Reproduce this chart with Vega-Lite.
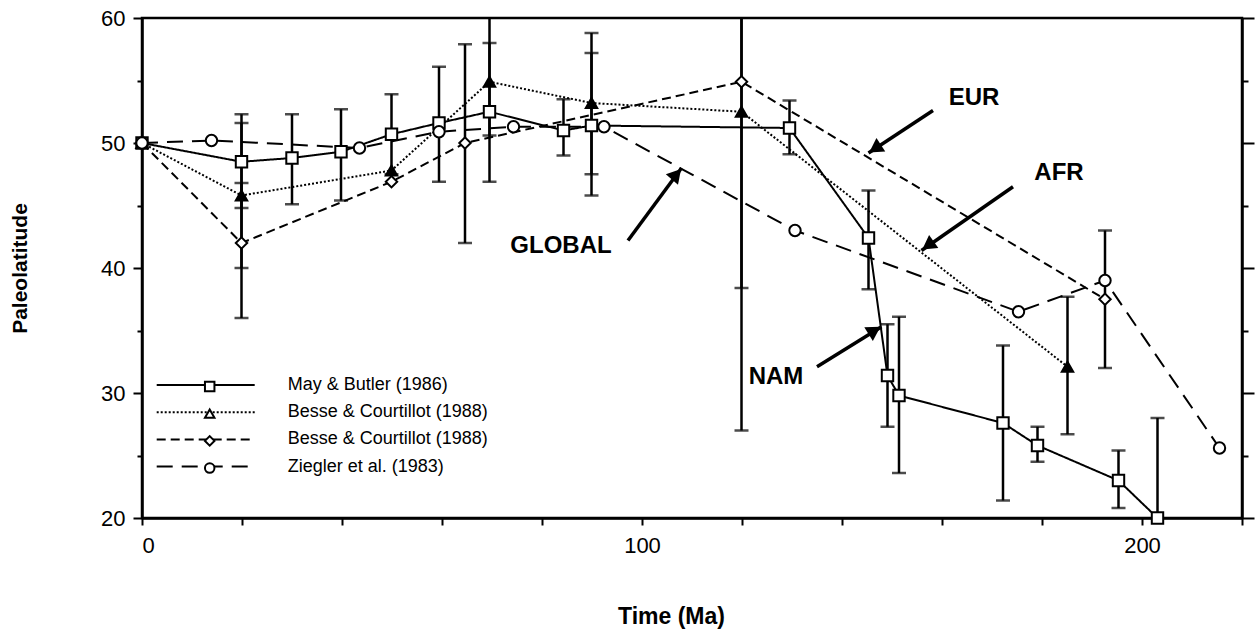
{
  "$schema": "https://vega.github.io/schema/vega-lite/v6.json",
  "width": 1100,
  "height": 500,
  "autosize": "none",
  "padding": {"left": 142, "top": 18, "right": 13, "bottom": 117},
  "background": "white",
  "config": {
    "font": "Liberation Sans",
    "view": {"stroke": "black", "strokeWidth": 2.5},
    "axis": {"grid": false, "domainColor": "black", "domainWidth": 2.5, "tickColor": "black", "tickWidth": 2, "labelColor": "black", "titleColor": "black", "labelFont": "Liberation Sans", "titleFont": "Liberation Sans"}
  },
  "datasets": {
    "pts": [
      {"series": "NAM", "age": 0, "lat": 50},
      {"series": "NAM", "age": 19.9, "lat": 48.5},
      {"series": "NAM", "age": 30, "lat": 48.8},
      {"series": "NAM", "age": 39.8, "lat": 49.3},
      {"series": "NAM", "age": 49.9, "lat": 50.7},
      {"series": "NAM", "age": 59.4, "lat": 51.6},
      {"series": "NAM", "age": 69.5, "lat": 52.5},
      {"series": "NAM", "age": 84.3, "lat": 51.0},
      {"series": "NAM", "age": 89.9, "lat": 51.4},
      {"series": "NAM", "age": 129.5, "lat": 51.2},
      {"series": "NAM", "age": 145.3, "lat": 42.4},
      {"series": "NAM", "age": 149.1, "lat": 31.4},
      {"series": "NAM", "age": 151.4, "lat": 29.8},
      {"series": "NAM", "age": 172.2, "lat": 27.6},
      {"series": "NAM", "age": 179.1, "lat": 25.8},
      {"series": "NAM", "age": 195.3, "lat": 23.0},
      {"series": "NAM", "age": 203.1, "lat": 20.0},
      {"series": "AFR", "age": 0, "lat": 50},
      {"series": "AFR", "age": 19.9, "lat": 45.8},
      {"series": "AFR", "age": 49.9, "lat": 47.8},
      {"series": "AFR", "age": 69.5, "lat": 54.9},
      {"series": "AFR", "age": 89.9, "lat": 53.2},
      {"series": "AFR", "age": 119.9, "lat": 52.5},
      {"series": "AFR", "age": 185.1, "lat": 32.1},
      {"series": "EUR", "age": 0, "lat": 50},
      {"series": "EUR", "age": 19.9, "lat": 42.0},
      {"series": "EUR", "age": 49.9, "lat": 46.9},
      {"series": "EUR", "age": 64.6, "lat": 50.0},
      {"series": "EUR", "age": 119.9, "lat": 54.9},
      {"series": "EUR", "age": 192.6, "lat": 37.5},
      {"series": "GLOBAL", "age": 0, "lat": 50},
      {"series": "GLOBAL", "age": 13.9, "lat": 50.2},
      {"series": "GLOBAL", "age": 43.5, "lat": 49.6},
      {"series": "GLOBAL", "age": 59.4, "lat": 50.9},
      {"series": "GLOBAL", "age": 74.3, "lat": 51.3},
      {"series": "GLOBAL", "age": 92.4, "lat": 51.3},
      {"series": "GLOBAL", "age": 130.6, "lat": 43.0},
      {"series": "GLOBAL", "age": 175.3, "lat": 36.5},
      {"series": "GLOBAL", "age": 192.6, "lat": 39.0},
      {"series": "GLOBAL", "age": 215.5, "lat": 25.6}
    ],
    "bars": [
      {"series": "NAM", "age": 19.9, "lo": 44.8, "hi": 52.3},
      {"series": "AFR", "age": 19.9, "lo": 40.0, "hi": 51.6},
      {"series": "EUR", "age": 19.9, "lo": 36.0, "hi": 46.8},
      {"series": "NAM", "age": 30, "lo": 45.1, "hi": 52.3},
      {"series": "NAM", "age": 39.8, "lo": 45.4, "hi": 52.7},
      {"series": "NAM", "age": 49.9, "lo": 47.5, "hi": 53.9},
      {"series": "NAM", "age": 59.4, "lo": 46.9, "hi": 56.1},
      {"series": "EUR", "age": 64.6, "lo": 42.0, "hi": 57.9},
      {"series": "NAM", "age": 69.5, "lo": 46.9, "hi": 58.0},
      {"series": "AFR", "age": 69.5, "lo": 50.6, "hi": 61.0},
      {"series": "NAM", "age": 84.3, "lo": 49.0, "hi": 53.5},
      {"series": "AFR", "age": 89.9, "lo": 47.5, "hi": 58.8},
      {"series": "NAM", "age": 89.9, "lo": 45.8, "hi": 57.2},
      {"series": "EUR", "age": 119.9, "lo": 27.0, "hi": 82.8},
      {"series": "AFR", "age": 119.9, "lo": 38.4, "hi": 66.6},
      {"series": "NAM", "age": 129.5, "lo": 49.1, "hi": 53.4},
      {"series": "NAM", "age": 145.3, "lo": 38.3, "hi": 46.2},
      {"series": "NAM", "age": 149.1, "lo": 27.3, "hi": 35.5},
      {"series": "NAM", "age": 151.4, "lo": 23.6, "hi": 36.1},
      {"series": "NAM", "age": 172.2, "lo": 21.4, "hi": 33.8},
      {"series": "NAM", "age": 179.1, "lo": 24.5, "hi": 27.3},
      {"series": "AFR", "age": 185.1, "lo": 26.7, "hi": 37.7},
      {"series": "EUR", "age": 192.6, "lo": 32.0, "hi": 43.0},
      {"series": "NAM", "age": 195.3, "lo": 20.8, "hi": 25.4},
      {"series": "NAM", "age": 203.1, "lo": 12.0, "hi": 28.0}
    ],
    "notes": [
      {"label": "GLOBAL", "age": 83.8, "lat": 41.8, "tailAge": 97.2, "tailLat": 42.2, "tipAge": 107.9, "tipLat": 48.0, "headAge": 106.9, "headLat": 47.5, "angle": 41},
      {"label": "EUR", "age": 166.4, "lat": 53.6, "tailAge": 158.2, "tailLat": 52.6, "tipAge": 145.3, "tipLat": 49.2, "headAge": 146.6, "headLat": 49.55, "angle": 237},
      {"label": "AFR", "age": 183.4, "lat": 47.6, "tailAge": 174.2, "tailLat": 46.5, "tipAge": 155.9, "tipLat": 41.4, "headAge": 157.2, "headLat": 41.8, "angle": 235},
      {"label": "NAM", "age": 126.8, "lat": 31.3, "tailAge": 135.0, "tailLat": 32.1, "tipAge": 147.9, "tipLat": 35.3, "headAge": 146.5, "headLat": 35.0, "angle": 58}
    ]
  },
  "layer": [
    {
      "data": {"name": "pts"},
      "mark": {"type": "line", "color": "black", "strokeWidth": 2},
      "encoding": {
        "x": {"field": "age", "type": "quantitative", "scale": {"domain": [0, 220], "nice": false, "zero": false},
          "axis": {"title": "Time (Ma)", "values": [0, 20, 40, 60, 80, 100, 120, 140, 160, 180, 200, 220],
            "labelExpr": "datum.value % 100 === 0 ? datum.label : ''", "labelFontSize": 22, "labelPadding": 10, "tickSize": 7,
            "titleFontSize": 23, "titleFontWeight": "bold", "titleX": 529, "titleY": 98, "titleBaseline": "middle", "titleAlign": "center"}},
        "y": {"field": "lat", "type": "quantitative", "scale": {"domain": [20, 60], "nice": false, "zero": false},
          "axis": {"title": "Paleolatitude", "orient": "left", "values": [20, 25, 30, 35, 40, 45, 50, 55, 60],
            "labelExpr": "datum.value % 10 === 0 ? datum.label : ''",
            "tickSize": {"condition": {"test": "datum.value % 10 === 0", "value": 9}, "value": 5},
            "labelFontSize": 22, "labelPadding": 8,
            "titleFontSize": 21, "titleFontWeight": "bold", "titleX": -122, "titleY": 250, "titleAngle": -90, "titleBaseline": "middle", "titleAlign": "center"}},
        "strokeDash": {"field": "series", "type": "nominal",
          "scale": {"domain": ["NAM", "AFR", "EUR", "GLOBAL"], "range": [[1, 0], [2, 2], [9, 5], [16, 9]]},
          "legend": {"orient": "none", "legendX": 14.7, "legendY": 358, "title": null, "symbolType": "M-9.8,0H9.8", "symbolSize": 100,
            "symbolStrokeWidth": 2, "symbolStrokeColor": "black", "symbolOffset": 40, "rowPadding": 9.2, "labelOffset": 73,
            "labelFontSize": 18, "labelColor": "black", "labelLimit": 400, "padding": 0,
            "labelExpr": "datum.value === 'NAM' ? 'May & Butler (1986)' : datum.value === 'GLOBAL' ? 'Ziegler et al. (1983)' : 'Besse & Courtillot (1988)'"}}
      }
    },
    {
      "data": {"name": "bars"},
      "mark": {"type": "rule", "color": "black", "strokeWidth": 2.5, "clip": true},
      "encoding": {
        "x": {"field": "age", "type": "quantitative"},
        "y": {"field": "lo", "type": "quantitative",
          "axis": {"orient": "right", "title": null, "labels": false, "values": [20, 25, 30, 35, 40, 45, 50, 55, 60],
            "tickSize": {"condition": {"test": "datum.value % 10 === 0", "value": 12}, "value": 6}}},
        "y2": {"field": "hi"}
      }
    },
    {
      "data": {"name": "bars"},
      "mark": {"type": "tick", "orient": "horizontal", "color": "black", "size": 14, "thickness": 2.5, "clip": true},
      "encoding": {
        "x": {"field": "age", "type": "quantitative"},
        "y": {"field": "lo", "type": "quantitative", "axis": null}
      }
    },
    {
      "data": {"name": "bars"},
      "mark": {"type": "tick", "orient": "horizontal", "color": "black", "size": 14, "thickness": 2.5, "clip": true},
      "encoding": {
        "x": {"field": "age", "type": "quantitative"},
        "y": {"field": "hi", "type": "quantitative", "axis": null}
      }
    },
    {
      "data": {"name": "pts"},
      "mark": {"type": "point", "filled": true, "stroke": "black", "strokeWidth": 2, "opacity": 1, "size": 130},
      "encoding": {
        "x": {"field": "age", "type": "quantitative"},
        "y": {"field": "lat", "type": "quantitative", "axis": null},
        "shape": {"field": "series", "type": "nominal",
          "scale": {"domain": ["NAM", "AFR", "EUR", "GLOBAL", "none"], "range": ["square", "triangle-up", "diamond", "circle", "cross"]},
          "legend": {"orient": "none", "legendX": 14.7, "legendY": 359.5, "title": null, "values": ["NAM", "AFR", "EUR", "GLOBAL"],
            "symbolSize": 90, "symbolOffset": 44, "symbolStrokeColor": "black", "symbolStrokeWidth": 2, "symbolFillColor": "white",
            "rowPadding": 9.2, "labelOpacity": 0, "labelFontSize": 18, "padding": 0}},
        "fill": {"field": "series", "type": "nominal",
          "scale": {"domain": ["NAM", "AFR", "EUR", "GLOBAL"], "range": ["white", "black", "white", "white"]}, "legend": null}
      }
    },
    {
      "data": {"name": "notes"},
      "mark": {"type": "rule", "color": "black", "strokeWidth": 3.5},
      "encoding": {
        "x": {"field": "tailAge", "type": "quantitative"},
        "y": {"field": "tailLat", "type": "quantitative", "axis": null},
        "x2": {"field": "tipAge"},
        "y2": {"field": "tipLat"}
      }
    },
    {
      "data": {"name": "notes"},
      "mark": {"type": "point", "shape": "triangle-up", "filled": true, "color": "black", "size": 260, "opacity": 1},
      "encoding": {
        "x": {"field": "headAge", "type": "quantitative"},
        "y": {"field": "headLat", "type": "quantitative", "axis": null},
        "angle": {"field": "angle", "type": "quantitative", "scale": null}
      }
    },
    {
      "data": {"name": "notes"},
      "mark": {"type": "text", "fontSize": 24, "fontWeight": "bold", "font": "Liberation Sans", "color": "black"},
      "encoding": {
        "x": {"field": "age", "type": "quantitative"},
        "y": {"field": "lat", "type": "quantitative", "axis": null},
        "text": {"field": "label"}
      }
    }
  ],
  "resolve": {"axis": {"y": "independent"}}
}
